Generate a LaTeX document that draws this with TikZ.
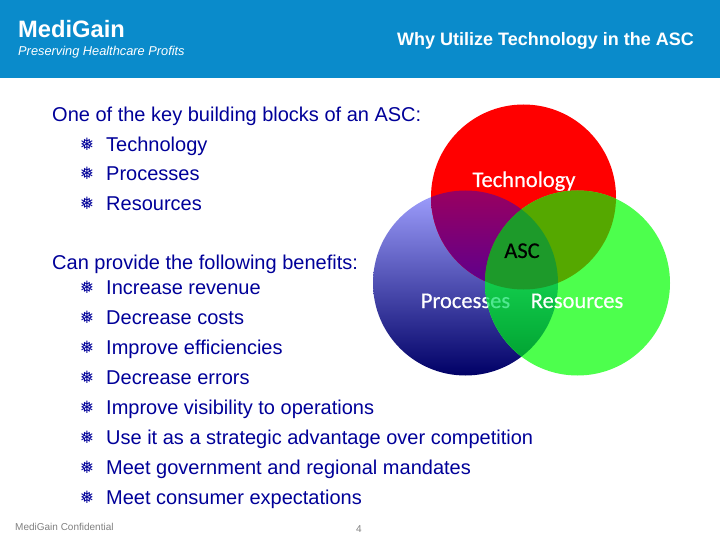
\documentclass[tikz,border=0pt]{standalone}
\usepackage{fontspec}
\setmainfont{Liberation Sans}
\newfontfamily\venn[FakeBold=0.4]{Carlito}
\newfontfamily\bulletfont{DejaVu Sans}
\definecolor{band}{HTML}{0A8BCB}
\definecolor{navy}{HTML}{000099}
\definecolor{rc}{HTML}{FF0000}
\definecolor{gc}{HTML}{4DFF4D}
\definecolor{foot}{HTML}{808080}
\definecolor{btop}{HTML}{A0A0FF}
\definecolor{bmid}{HTML}{2E2EC0}
\definecolor{bbot}{HTML}{000066}
\definecolor{rgc}{HTML}{55A800}
\definecolor{rgb}{HTML}{1D9A2A}
\definecolor{rbtop}{HTML}{990060}
\definecolor{rbbot}{HTML}{5A0090}
\definecolor{bgtop}{HTML}{12CC4C}
\definecolor{bgbot}{HTML}{00A030}
\definecolor{estext}{HTML}{50E890}
\tikzset{
  body/.style={anchor=base west,inner sep=0pt,text=navy,font=\fontsize{20}{22}\selectfont},
  item/.style={body,xshift=106pt},
  bul/.style={anchor=base,inner sep=0pt,text=navy,font=\bulletfont\fontsize{17}{18}\selectfont},
  vl/.style={anchor=base,inner sep=0pt,font=\venn\fontsize{22.5}{24}\selectfont},
  head/.style={anchor=base west,inner sep=0pt,text=white},
}
\begin{document}
\begin{tikzpicture}[x=1pt,y=-1pt]
\useasboundingbox (0,0) rectangle (720,540);
\fill[white] (0,0) rectangle (720,540);
\fill[band] (0,0) rectangle (720,78);
\node[head,font=\bfseries\fontsize{23.7}{26}\selectfont] (brand) at (18,38) {MediGain};
\node[head,font=\itshape\fontsize{12.8}{14}\selectfont] (tag) at (18,56) {Preserving Healthcare Profits};
\node[head,font=\bfseries\fontsize{18}{20}\selectfont] (title) at (397,46) {Why Utilize Technology in the ASC};
% Venn
\coordinate (R) at (523.5,197);
\coordinate (B) at (465.5,283);
\coordinate (G) at (577.5,283);
\def\rr{92.5}
\shade[top color=btop,middle color=bmid,bottom color=bbot] (B) circle (\rr);
\fill[rc] (R) circle (\rr);
\fill[gc] (G) circle (\rr);
\begin{scope}
  \clip (R) circle (\rr);
  \clip (B) circle (\rr);
  \shade[top color=rbtop,bottom color=rbbot] (380,190) rectangle (560,290);
\end{scope}
\begin{scope}
  \clip (G) circle (\rr);
  \fill[rgc] (R) circle (\rr);
\end{scope}
\node[vl,text=white] (tech) at (524,187) {Technology};
\node[vl,text=white] (proc) at (465.5,308) {Processes};
\begin{scope}
  \clip (G) circle (\rr);
  \clip (B) circle (\rr);
  \shade[top color=bgtop,bottom color=bgbot] (480,280) rectangle (560,365);
\end{scope}
\begin{scope}
  \clip (R) circle (\rr);
  \clip (G) circle (\rr);
  \fill[rgb] (B) circle (\rr);
\end{scope}
\begin{scope}
  \clip (G) circle (\rr);
  \node[vl,text=estext] (proc2) at (465.5,308) {Processes};
\end{scope}
\node[vl,text=white] (res) at (577,308) {Resources};
\node[vl,text=black] (asc) at (522,258) {ASC};
% Text
\node[body] (intro) at (52,122) {One of the key building blocks of an ASC:};
\node[item] (i1) at (0,152) {Technology};
\node[item] (i2) at (0,181) {Processes};
\node[item] (i3) at (0,211) {Resources};
\node[body] (can) at (52,269) {Can provide the following benefits:};
\node[item] (b1) at (0,294) {Increase revenue};
\node[item] (b2) at (0,324) {Decrease costs};
\node[item] (b3) at (0,354) {Improve efficiencies};
\node[item] (b4) at (0,384) {Decrease errors};
\node[item] (b5) at (0,414) {Improve visibility to operations};
\node[item] (b6) at (0,444) {Use it as a strategic advantage over competition};
\node[item] (b7) at (0,474) {Meet government and regional mandates};
\node[item] (b8) at (0,504) {Meet consumer expectations};
\foreach \y/\n in {152/a,181/b,211/c,294/d,324/e,354/f,384/g,414/h,444/i,474/j,504/k}
  \node[bul] (s\n) at (87,\y-1) {❅};
\node[anchor=base west,inner sep=0pt,text=foot,font=\fontsize{10}{12}\selectfont] (conf) at (15,530) {MediGain Confidential};
\node[anchor=base,inner sep=0pt,text=foot,font=\fontsize{10}{12}\selectfont] (pg) at (359,532) {4};
\end{tikzpicture}
\end{document}
